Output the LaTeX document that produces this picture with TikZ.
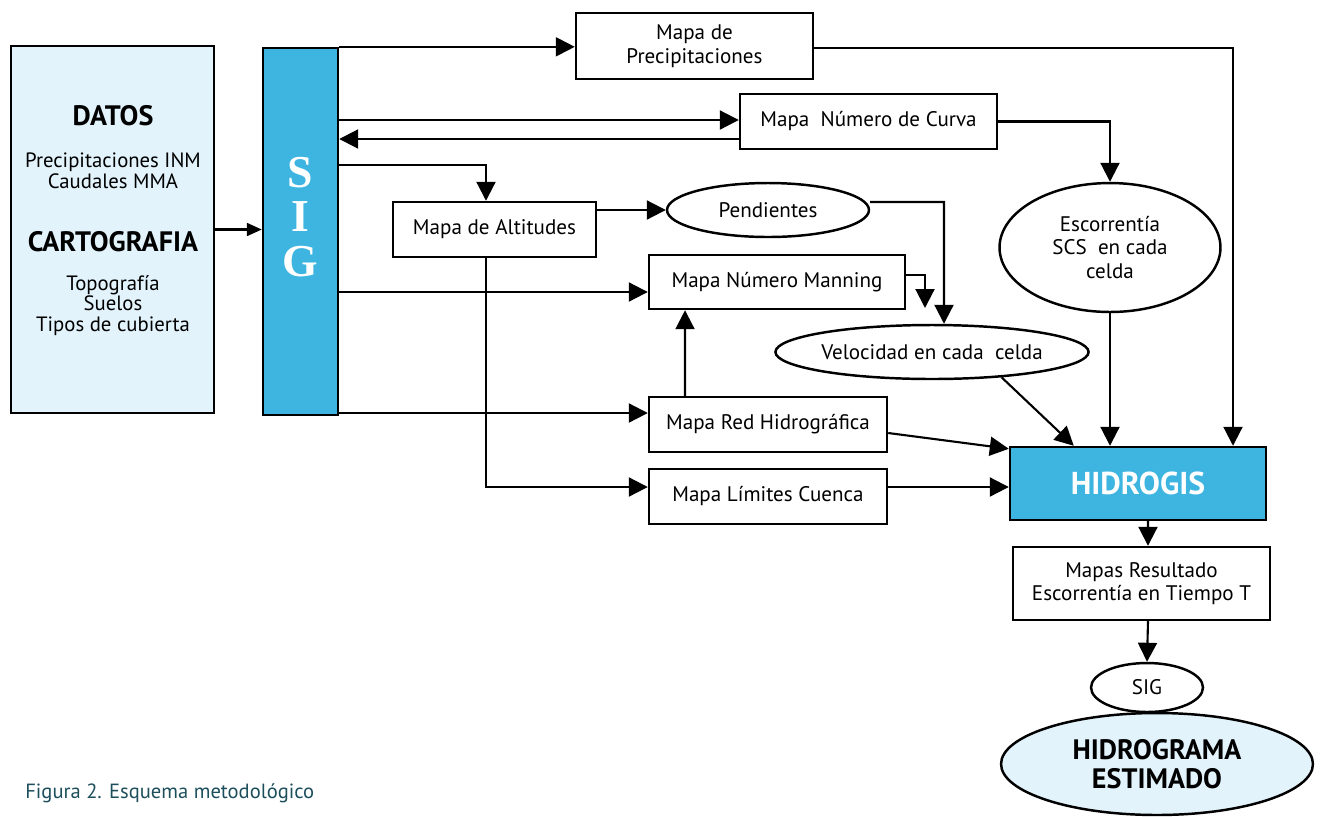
\documentclass[tikz,border=0pt]{standalone}
\usepackage{fontspec}
\setmainfont{PT Sans}
\newfontfamily\sigfont{Liberation Serif}
\usetikzlibrary{arrows.meta,shapes.geometric}
\definecolor{sigblue}{RGB}{61,181,224}
\definecolor{paleblue}{RGB}{226,243,251}
\definecolor{capteal}{RGB}{28,78,92}
\tikzset{
  box/.style={draw,line width=1.4pt,inner sep=0pt,align=center,font=\fontsize{12}{13.5}\selectfont},
  oval/.style={box,ellipse},
  arr/.style={line width=1.2pt,-{Triangle[length=.38cm,width=.38cm]}},
  arrs/.style={line width=1.2pt,-{Triangle[length=.3cm,width=.26cm]}}
}
\begin{document}
\begin{tikzpicture}[x=0.02cm,y=-0.02cm]
\useasboundingbox (0,0) rectangle (1322,816);
\draw (112.5,229.5) node[box,fill=paleblue,minimum width=4.06cm,minimum height=7.34cm] (datos) {};
\draw (113,116) node[font=\bfseries\fontsize{16}{18}\selectfont] (datoshead) {DATOS};
\draw (113,170.5) node[align=center,font=\fontsize{11.8}{11.8}\selectfont] (datoslist) {Precipitaciones INM\\Caudales MMA};
\draw (113,242) node[font=\bfseries\fontsize{16}{18}\selectfont] (cartohead) {CARTOGRAFIA};
\draw (113,305.5) node[align=center,font=\fontsize{11.8}{11.5}\selectfont] (cartolist) {Topografía\\Suelos\\Tipos de cubierta};
\draw (300.5,231.5) node[box,fill=sigblue,minimum width=1.5cm,minimum height=7.34cm] (sig) {};
\draw (300.5,217) node[align=center,text=white,font=\sigfont\bfseries\fontsize{26}{25.5}\selectfont] (siglabel) {S\\I\\G};
\draw (694.5,46) node[box,minimum width=4.74cm,minimum height=1.32cm] (precip) {Mapa de\\Precipitaciones};
\draw (868.5,121.5) node[box,minimum width=5.14cm,minimum height=1.1cm] (curva) {Mapa\ \ Número de Curva};
\draw (494.5,229.5) node[box,minimum width=4.06cm,minimum height=1.1cm] (altitudes) {Mapa de Altitudes};
\draw (768,210) node[oval,minimum width=4.04cm,minimum height=1.08cm] (pendientes) {Pendientes};
\draw (777,282) node[box,minimum width=5.12cm,minimum height=1.08cm] (manning) {Mapa Número Manning};
\draw (1110,247.5) node[oval,minimum width=4.42cm,minimum height=2.58cm] (escorrentia) {Escorrentía\\SCS\ \ en cada\\celda};
\draw (932,352) node[oval,minimum width=6.24cm,minimum height=1.08cm] (velocidad) {Velocidad en cada\ \ celda};
\draw (768,424.5) node[box,minimum width=4.76cm,minimum height=1.1cm] (red) {Mapa Red Hidrográfica};
\draw (768,496.5) node[box,minimum width=4.76cm,minimum height=1.1cm] (limites) {Mapa Límites Cuenca};
\draw (1138,483.5) node[box,fill=sigblue,text=white,minimum width=5.12cm,minimum height=1.46cm,font=\bfseries\fontsize{18}{20}\selectfont] (hidrogis) {HIDROGIS};
\draw (1141.5,583.5) node[box,minimum width=5.14cm,minimum height=1.46cm] (resultado) {Mapas Resultado\\Escorrentía en Tiempo T};
\draw (1147,687.5) node[oval,minimum width=2.24cm,minimum height=.98cm] (sigell) {SIG};
\draw (1157,764) node[oval,fill=paleblue,minimum width=6.24cm,minimum height=2.04cm,font=\bfseries\fontsize{16}{16.5}\selectfont] (hidrograma) {HIDROGRAMA\\ESTIMADO};
\draw (25,793) node[anchor=west,inner sep=0pt,text=capteal,font=\fontsize{11.7}{14}\selectfont] (caption) {Figura 2. Esquema metodológico};
\draw[arrs] (datos.east) -- (datos.east -| sig.west);
\coordinate (c1) at (1233,48);
\draw[arr] (sig.north east) -- (sig.north east -| precip.west);
\draw[arr] (precip.east |- c1) -- (c1) -- (c1 |- hidrogis.north);
\coordinate (c2) at ([yshift=.03cm]curva.west);
\coordinate (c3) at ([yshift=-.35cm]curva.west);
\draw[arr] (sig.east |- c2) -- (c2);
\draw[arr] (c3) -- (sig.east |- c3);
\draw[arr] (curva.east) -| (escorrentia.north);
\coordinate (c4) at (486,165);
\draw[arr] (sig.east |- c4) -- (c4) -- (c4 |- altitudes.north);
\draw[arr] (altitudes.east |- pendientes.west) -- (pendientes.west);
\coordinate (c5) at (944,202);
\draw[arr] ([yshift=.16cm]pendientes.east) -- (c5) -- (c5 |- velocidad.north);
\coordinate (c6) at ([yshift=-.2cm]manning.west);
\draw[arr] (sig.east |- c6) -- (c6);
\coordinate (c7) at (925,308);
\draw[arr] ([yshift=.14cm]manning.east) -| (c7);
\coordinate (c8) at ([yshift=.23cm]red.west);
\draw[arr] (sig.east |- c8) -- (c8);
\draw[arr] ([xshift=-1.66cm]red.north) -- ([xshift=-1.84cm]manning.south);
\coordinate (c9) at ([yshift=.19cm]limites.west);
\draw[arr] (c4 |- altitudes.south) -- (c4 |- c9) -- (c9);
\draw[arr] (limites.east |- c9) -- (hidrogis.west |- c9);
\draw[arr] ([yshift=-.17cm]red.east) -- ([yshift=-.06cm]hidrogis.north west);
\draw[arr] (velocidad.-20) -- ([xshift=1.3cm]hidrogis.north west);
\draw[arr] (escorrentia.south) -- (escorrentia.south |- hidrogis.north);
\draw[arr] ([xshift=.2cm]hidrogis.south) -- ([xshift=.13cm]resultado.north);
\draw[arr] ([xshift=.13cm]resultado.south) -- (sigell.north);
\end{tikzpicture}
\end{document}
